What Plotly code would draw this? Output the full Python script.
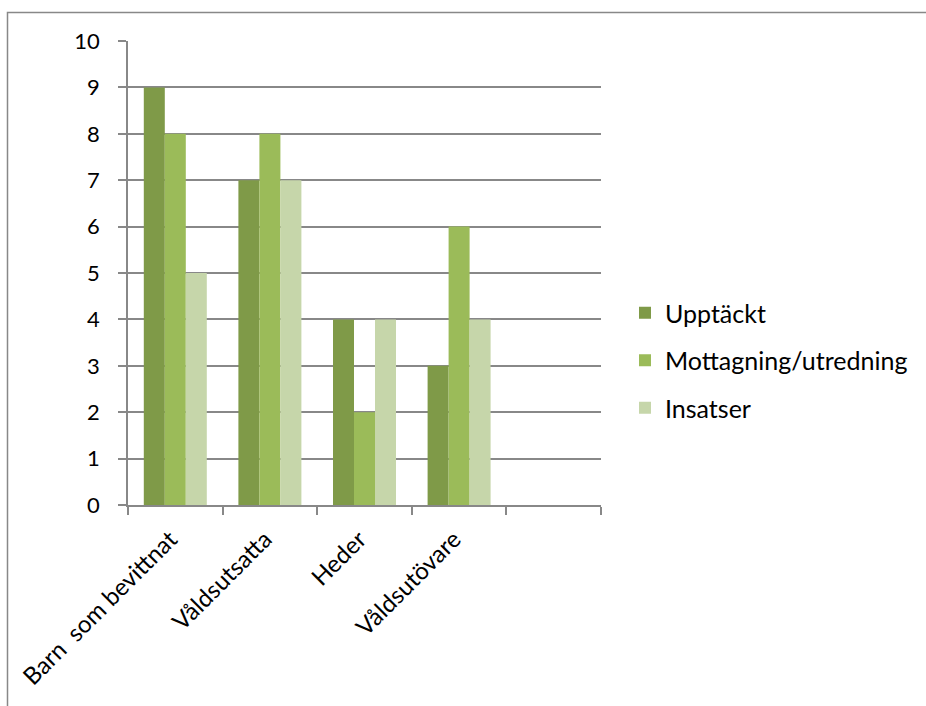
import plotly.graph_objects as go

categories = ["Barn\u00a0 som bevittnat", "Våldsutsatta", "Heder", "Våldsutövare", " "]
upptackt = [9, 7, 4, 3, None]
mottagning = [8, 8, 2, 6, None]
insatser = [5, 7, 4, 4, None]
series_names = ["Upptäckt", "Mottagning/utredning", "Insatser"]
colors = ["#7F9A48", "#9BBB59", "#C6D6AA"]
y_ticks = list(range(0, 11))

W, H = 926, 706
L, R, T, B = 128, 601, 41, 505
pw, ph = R - L, B - T

FONT = "Lato"

fig = go.Figure()
for i, (name, vals) in enumerate(zip(series_names, [upptackt, mottagning, insatser])):
    fig.add_trace(go.Bar(
        x=categories, y=vals, name=name,
        marker=dict(color=colors[i], line=dict(width=0)),
        legendgroup=f"g{i}",
    ))

def px_x(x):
    return (x - L) / pw

def px_y(y):
    return (B - y) / ph

fig.update_layout(
    width=W, height=H,
    margin=dict(l=L, r=W - R, t=T, b=H - B, pad=0, autoexpand=False),
    paper_bgcolor="white", plot_bgcolor="white",
    barmode="group", bargap=0.334, bargroupgap=0,
    font=dict(family=FONT, size=22, color="black"),
    legend=dict(
        x=px_x(625), y=px_y(290), xanchor="left", yanchor="top",
        traceorder="grouped", tracegroupgap=12,
        font=dict(family=FONT, size=25, color="black"),
        bgcolor="rgba(0,0,0,0)",
    ),
    xaxis=dict(
        type="category", tickangle=-45, tickson="boundaries",
        ticks="outside", ticklen=8, tickcolor="#888888", tickwidth=1.5,
        showline=True, linecolor="#888888", linewidth=1.5,
        showgrid=False, tickfont=dict(family=FONT, size=24),
        ticklabelshift=-5, ticklabelstandoff=9, automargin=False,
        range=[-0.5, 4.5],
    ),
    yaxis=dict(
        range=[0, 10], tickvals=y_ticks, showgrid=True,
        gridcolor="#888888", gridwidth=1.5,
        ticks="outside", ticklen=8, tickcolor="#888888", tickwidth=1.5,
        showline=True, linecolor="#888888", linewidth=1.5,
        zeroline=False, tickfont=dict(family=FONT, size=22),
        ticklabelstandoff=14, automargin=False,
    ),
    shapes=[dict(
        type="rect", xref="paper", yref="paper",
        x0=px_x(7.5), x1=px_x(960), y0=px_y(740), y1=px_y(12.5),
        line=dict(color="#888888", width=1.5), fillcolor="rgba(0,0,0,0)",
        layer="below",
    )],
)

fig.write_html(
    "out.html",
    config={"displayModeBar": False},
    post_script="document.body.style.margin='0';document.body.style.overflow='hidden';",
)
